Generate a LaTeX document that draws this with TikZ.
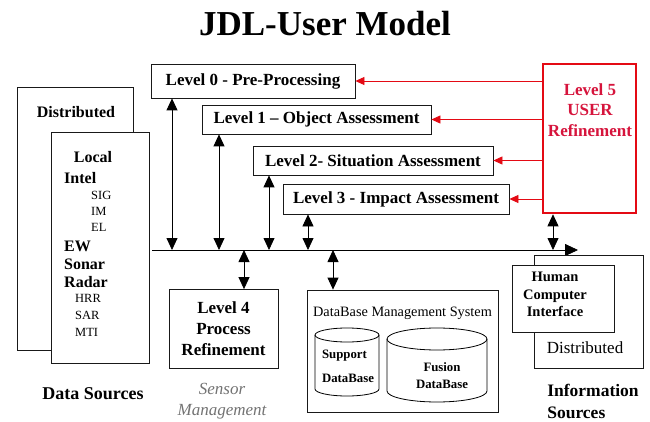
\documentclass[tikz,border=0pt]{standalone}
\usepackage{fontspec}
\setmainfont{Liberation Serif}
\usetikzlibrary{arrows.meta}
\definecolor{userred}{RGB}{228,10,20}
\definecolor{usertext}{RGB}{214,20,60}
\tikzset{
  box/.style={draw=black!90, line width=0.8pt, fill=white, inner sep=0pt},
  lvl/.style={box, font=\bfseries\fontsize{17}{19}\selectfont},
  dbl/.style={{Triangle[width=11pt,length=12pt]}-{Triangle[width=11pt,length=12pt]}, line width=0.8pt},
  redarrow/.style={-{Triangle[width=8pt,length=9pt]}, draw=userred, line width=0.8pt},
  item/.style={anchor=west, inner sep=0pt},
}
\begin{document}
\begin{tikzpicture}[x=1pt,y=-1pt]
\useasboundingbox (0,0) rectangle (650,422);
\fill[white] (0,0) rectangle (650,422);

% title
\node[font=\bfseries\fontsize{35}{38}\selectfont] (title) at (325,24) {JDL-User Model};

% data sources
\node[box, minimum width=116pt, minimum height=263pt] (dist) at (75,218.5) {};
\node[font=\bfseries\fontsize{16}{18}\selectfont] (distt) at (76,112) {Distributed};
\node[box, minimum width=98pt, minimum height=231pt] (local) at (100,247.5) {};
\node[font=\bfseries\fontsize{16}{18}\selectfont] (localt) at (93,157) {Local};
\begin{scope}[font=\bfseries\fontsize{16}{18}\selectfont]
\node[item] (intel) at (64,178) {Intel};
\node[item] (ew) at (64,246) {EW};
\node[item] (sonar) at (64,264) {Sonar};
\node[item] (radar) at (64,282) {Radar};
\end{scope}
\begin{scope}[font=\fontsize{12.5}{14}\selectfont]
\node[item] (sig) at (91,195) {SIG};
\node[item] (im) at (91,211) {IM};
\node[item] (el) at (91,227) {EL};
\node[item] (hrr) at (75,298) {HRR};
\node[item] (sar) at (75,315) {SAR};
\node[item] (mti) at (75,332) {MTI};
\end{scope}
\node[font=\bfseries\fontsize{18}{20}\selectfont] (dsrc) at (93,394) {Data Sources};

% fusion levels
\node[lvl, minimum width=204pt, minimum height=34pt] (l0) at (253,81) {Level 0 - Pre-Processing};
\node[lvl, minimum width=229pt, minimum height=29pt] (l1) at (316.5,119.5) {Level 1 -- Object Assessment};
\node[lvl, minimum width=240pt, minimum height=29pt] (l2) at (373,160.5) {Level 2- Situation Assessment};
\node[lvl, minimum width=226pt, minimum height=30pt] (l3) at (396,199) {Level 3 - Impact Assessment};

% level 5 user refinement
\node[draw=userred, line width=2.6pt, fill=white, minimum width=93pt, minimum height=149pt] (l5) at (589.5,138.5) {};
\node[text=usertext, font=\bfseries\fontsize{17}{20.5}\selectfont, align=center, anchor=north] (l5t) at (590,80) {Level 5\\USER\\Refinement};

\draw[redarrow] (l5.west |- l0.east) -- (l0.east);
\draw[redarrow] (l5.west |- l1.east) -- (l1.east);
\draw[redarrow] (l5.west |- l2.east) -- (l2.east);
\draw[redarrow] (l5.west |- l3.east) -- (l3.east);

% bus
\coordinate (busL) at (152,250);
\coordinate (busR) at (578,250);
\draw[-{Triangle[width=12pt,length=13pt]}, line width=0.8pt] (busL) -- (busR);

\coordinate (b0) at (172,250);
\coordinate (b1) at (219,250);
\coordinate (b2) at (269,250);
\coordinate (b3) at (308,250);
\coordinate (b4) at (244,250);
\coordinate (bd) at (333,250);
\coordinate (b5) at (553,250);
\draw[dbl] (b0) -- (b0 |- l0.south);
\draw[dbl] (b1) -- (b1 |- l1.south);
\draw[dbl] (b2) -- (b2 |- l2.south);
\draw[dbl] (b3) -- (b3 |- l3.south);

% level 4
\node[box, minimum width=109pt, minimum height=79pt, align=center, font=\bfseries\fontsize{17}{21}\selectfont] (l4) at (223.5,329) {Level 4\\Process\\Refinement};
\draw[dbl] (b4) -- (b4 |- l4.north);
\node[text=black!55, font=\itshape\fontsize{17}{21}\selectfont, align=center] (sm) at (222,401.5) {Sensor\\Management};

% database management system
\node[box, minimum width=191pt, minimum height=122pt] (dbms) at (402.5,351) {};
\node[font=\fontsize{14.3}{16}\selectfont] (dbmst) at (402.5,313) {DataBase Management System};
\draw[dbl] (bd) -- (bd |- dbms.north);

% support database cylinder
\draw[line width=0.8pt] (315,335) -- (315,389) arc[start angle=180, end angle=360, x radius=32pt, y radius=7pt] -- (379,335);
\draw[line width=0.8pt] (347,335) ellipse [x radius=32pt, y radius=7pt];
\node[font=\bfseries\fontsize{12.8}{24}\selectfont, align=left] (sdb) at (348,366) {Support\\DataBase};

% fusion database cylinder
\draw[line width=0.8pt] (387,339) -- (387,391) arc[start angle=180, end angle=360, x radius=50pt, y radius=11pt] -- (487,339);
\draw[line width=0.8pt] (437,339) ellipse [x radius=50pt, y radius=11pt];
\node[font=\bfseries\fontsize{12.8}{17}\selectfont, align=center] (fdb) at (442,375.5) {Fusion\\DataBase};

% information sources
\node[box, minimum width=109pt, minimum height=113pt] (idist) at (588.5,311.5) {};
\node[font=\fontsize{17}{19}\selectfont] (idistt) at (585,348) {Distributed};
\node[box, minimum width=102pt, minimum height=67pt] (hci) at (563,298.5) {};
\node[font=\bfseries\fontsize{14.5}{17.5}\selectfont, align=center] (hcit) at (555,294.5) {Human\\Computer\\Interface};
\draw[dbl] (b5) -- (b5 |- l5.south);
\node[font=\bfseries\fontsize{17.5}{22}\selectfont, align=left] (isrc) at (593,401) {Information\\Sources};
\end{tikzpicture}
\end{document}
